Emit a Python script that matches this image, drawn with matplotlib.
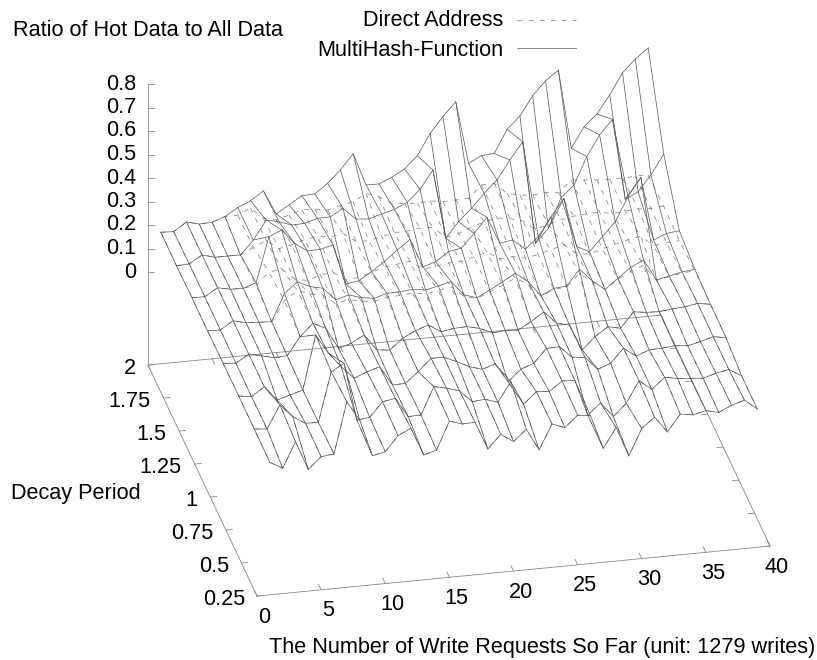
#!/usr/bin/env python3

import matplotlib

matplotlib.use("Agg")
import matplotlib.pyplot as plt
import numpy as np

plt.rcParams["font.family"] = ["Liberation Sans", "DejaVu Sans"]

# ------------------------------------------------------------------------------------------------
# data: one list per decay period, x = 1..39

writes = np.arange(1, 40)
decay = [2.0, 1.75, 1.5, 1.25, 1.0, 0.75, 0.5, 0.25]

mh_200 = [.164, .161, .197, .183, .185, .204, .237, .261, .297, .194, .227, .261, .263, .303, .354, .418, .280, .279, .302, .332,
          .383, .473, .539, .597, .329, .357, .361, .458, .510, .591, .649, .689, .351, .437, .486, .562, .651, .704, .746]
mh_175 = [.162, .164, .197, .182, .182, .181, .239, .319, .306, .287, .289, .305, .306, .337, .286, .281, .297, .311, .336, .386,
          .463, .167, .232, .284, .342, .394, .473, .546, .108, .167, .293, .340, .456, .543, .604, .258, .285, .351, .435]
mh_150 = [.166, .165, .198, .186, .185, .203, .394, .417, .355, .317, .319, .332, .161, .169, .202, .240, .284, .324, .202, .218,
          .256, .265, .323, .386, .270, .279, .235, .282, .362, .435, .224, .197, .256, .314, .415, .492, .220, .243, .249]
mh_125 = [.165, .164, .198, .184, .181, .178, .293, .337, .311, .299, .244, .260, .243, .235, .251, .252, .257, .249, .261, .274,
          .212, .195, .222, .252, .283, .242, .176, .203, .207, .273, .219, .177, .219, .260, .286, .196, .207, .220, .225]
mh_100 = [.168, .163, .196, .184, .170, .174, .249, .301, .274, .184, .200, .230, .161, .155, .200, .227, .246, .212, .221, .223,
          .210, .186, .190, .187, .217, .254, .200, .187, .076, .127, .164, .152, .217, .209, .207, .213, .217, .226, .217]
mh_075 = [.169, .161, .198, .136, .152, .168, .397, .314, .251, .197, .219, .235, .152, .154, .198, .250, .249, .225, .198, .182,
          .199, .118, .166, .186, .244, .246, .196, .190, .134, .154, .213, .174, .195, .197, .202, .197, .209, .225, .215]
mh_050 = [.169, .164, .261, .206, .172, .171, .381, .411, .165, .171, .232, .241, .158, .160, .275, .263, .247, .195, .200, .182,
          .264, .163, .211, .206, .246, .242, .090, .137, .073, .124, .215, .173, .219, .209, .204, .199, .215, .226, .193]
mh_025 = [.168, .137, .245, .122, .170, .177, .394, .311, .153, .165, .228, .254, .135, .151, .269, .251, .253, .134, .191, .155,
          .202, .109, .214, .193, .241, .233, .089, .172, .046, .158, .200, .132, .203, .194, .207, .194, .219, .236, .193]

da_200 = [.164, .161, .197, .183, .185, .204, .205, .229, .181, .168, .184, .200, .199, .189, .202, .214, .244, .225, .191, .186,
          .181, .186, .177, .179, .181, .232, .234, .186, .173, .168, .173, .167, .216, .211, .206, .203, .202, .206, .205]
da_175 = [.162, .164, .197, .182, .182, .181, .208, .232, .192, .203, .220, .228, .221, .229, .191, .188, .201, .212, .214, .221,
          .218, .171, .182, .203, .221, .232, .224, .209, .168, .182, .198, .208, .212, .214, .203, .208, .212, .209, .213]
da_150 = [.166, .165, .198, .186, .185, .192, .243, .251, .204, .191, .209, .216, .178, .183, .199, .217, .224, .231, .192, .198,
          .207, .209, .223, .238, .204, .209, .196, .207, .221, .238, .193, .187, .204, .218, .232, .241, .196, .203, .207]
da_125 = [.165, .164, .198, .184, .181, .178, .262, .300, .280, .270, .228, .240, .228, .222, .235, .236, .240, .232, .242, .252,
          .205, .192, .214, .238, .262, .230, .176, .198, .203, .256, .214, .177, .214, .244, .264, .194, .204, .215, .219]
da_100 = [.168, .163, .196, .184, .170, .174, .249, .301, .274, .184, .200, .230, .161, .155, .200, .227, .246, .212, .221, .223,
          .210, .186, .190, .187, .217, .254, .200, .187, .076, .127, .164, .152, .217, .209, .207, .213, .217, .226, .217]
da_075 = [.169, .161, .198, .136, .152, .168, .397, .314, .251, .197, .219, .235, .152, .154, .198, .250, .249, .225, .198, .182,
          .199, .118, .166, .186, .244, .246, .196, .190, .134, .154, .213, .174, .195, .197, .202, .197, .209, .225, .215]
da_050 = [.169, .164, .261, .206, .172, .171, .381, .411, .165, .171, .232, .241, .158, .160, .275, .263, .247, .195, .200, .182,
          .264, .163, .211, .206, .246, .242, .090, .137, .073, .124, .215, .173, .219, .209, .204, .199, .215, .226, .193]
da_025 = [.168, .137, .245, .122, .170, .177, .394, .311, .153, .165, .228, .254, .135, .151, .269, .251, .253, .134, .191, .155,
          .202, .109, .214, .193, .241, .233, .089, .172, .046, .158, .200, .132, .203, .194, .207, .194, .219, .236, .193]

multihash = np.array([mh_200, mh_175, mh_150, mh_125, mh_100, mh_075, mh_050, mh_025])
direct = np.array([da_200, da_175, da_150, da_125, da_100, da_075, da_050, da_025])

xticks = [0, 5, 10, 15, 20, 25, 30, 35, 40]
yticks = [2, 1.75, 1.5, 1.25, 1, 0.75, 0.5, 0.25]
zticks = [0, 0.1, 0.2, 0.3, 0.4, 0.5, 0.6, 0.7, 0.8]

# ------------------------------------------------------------------------------------------------
# gnuplot style view: fixed orthographic projection of (x, y, z) on the page

ORIGIN = np.array([148.0, 272.0])
X_STEP = np.array([12.825, -1.25])
Y_STEP = np.array([62.3, 132.0])  # per unit of (2 - decay)
Z_STEP = np.array([0.0, -235.0])
Z_BASE = -0.396


def proj(x, y, z):
    x, y, z = np.asarray(x, float), np.asarray(y, float), np.asarray(z, float)
    px = ORIGIN[0] + x * X_STEP[0] + (2 - y) * Y_STEP[0] + z * Z_STEP[0]
    py = ORIGIN[1] + x * X_STEP[1] + (2 - y) * Y_STEP[1] + z * Z_STEP[1]
    return px, py


fig = plt.figure(figsize=(8.17, 6.6), dpi=100)
ax = fig.add_axes([0, 0, 1, 1])
ax.set_xlim(0, 817)
ax.set_ylim(660, 0)
ax.axis("off")

AXC = "#888888"
AXW = 0.6
FS = 15.6


def line3(xs, ys, zs, **kw):
    px, py = proj(xs, ys, zs)
    ax.plot(px, py, **kw)


# base rectangle and z axis
line3([0, 40, 40, 0, 0], [0.25, 0.25, 2, 2, 0.25], [Z_BASE] * 5, color=AXC, lw=AXW)
line3([0, 0], [2, 2], [Z_BASE, 0.8], color=AXC, lw=AXW)

for t in zticks:
    px, py = proj(0, 2, t)
    ax.plot([px, px + 6], [py, py], color=AXC, lw=AXW)
    ax.text(136, py, f"{t:g}", ha="right", va="center", fontsize=FS)

ylabel_right = [136, 151, 166, 182, 197, 213, 229, 245]
for t, right in zip(yticks, ylabel_right):
    line3([0, 0.5], [t, t], [Z_BASE, Z_BASE], color=AXC, lw=AXW)
    line3([40, 39.5], [t, t], [Z_BASE, Z_BASE], color=AXC, lw=AXW)
    px, py = proj(0, t, Z_BASE)
    ax.text(right, py + 3, f"{t:g}", ha="right", va="center", fontsize=FS)

for t in xticks:
    line3([t, t], [0.25, 0.29], [Z_BASE, Z_BASE], color=AXC, lw=AXW)
    line3([t, t], [2, 1.96], [Z_BASE, Z_BASE], color=AXC, lw=AXW)
    px, py = proj(t, 0.25, Z_BASE)
    ax.text(px + 7, py + 21, f"{t:g}", ha="center", va="center", fontsize=FS)

# surfaces
DASH = (0, (7, 9))
DA_COLOR = "#777777"
MH_COLOR = "#555555"
LW = 0.5
for row, d in zip(direct, decay):
    line3(writes, [d] * len(writes), row, color=DA_COLOR, lw=LW, ls=DASH)
for col, x in zip(direct.T, writes):
    line3([x] * len(decay), decay, col, color=DA_COLOR, lw=LW, ls=DASH)

for row, d in zip(multihash, decay):
    line3(writes, [d] * len(writes), row, color=MH_COLOR, lw=LW)
for col, x in zip(multihash.T, writes):
    line3([x] * len(decay), decay, col, color=MH_COLOR, lw=LW)

# labels and key
ax.text(13, 31, "Ratio of Hot Data to All Data", ha="left", va="center", fontsize=FS)
ax.text(11, 493, "Decay Period", ha="left", va="center", fontsize=FS)
ax.text(269, 647, "The Number of Write Requests So Far (unit: 1279 writes)", ha="left", va="center", fontsize=FS)

ax.text(503, 20, "Direct Address", ha="right", va="center", fontsize=FS)
ax.text(503, 51, "MultiHash-Function", ha="right", va="center", fontsize=FS)
ax.plot([517, 576], [20, 20], color=DA_COLOR, lw=LW, ls=DASH)
ax.plot([517, 576], [48, 48], color=MH_COLOR, lw=LW)

plt.savefig("out.png", dpi=100)
